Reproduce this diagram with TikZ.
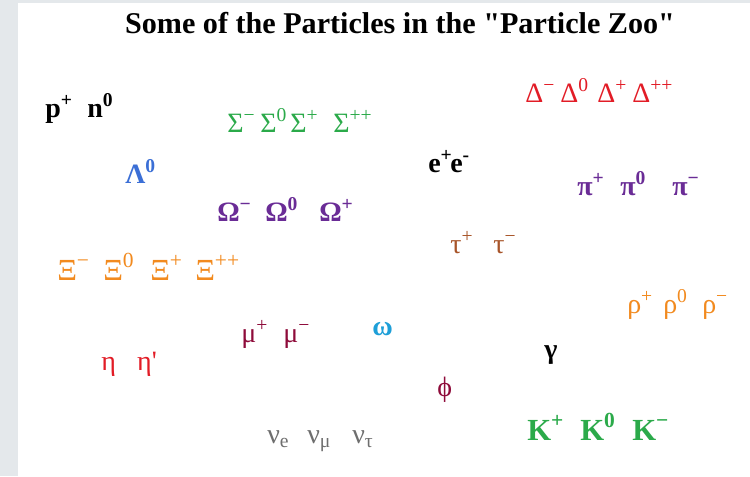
\documentclass[tikz,border=0pt]{standalone}
\usepackage{fontspec}
\setmainfont{Liberation Serif}[Ligatures=TeXOff]
\usepackage{tikz}
\usepackage{xcolor}
\usetikzlibrary{positioning}
\definecolor{zoogreen}{HTML}{2BAA4A}
\definecolor{zoored}{HTML}{E21C26}
\definecolor{zooblue}{HTML}{3B6FD6}
\definecolor{zoopurple}{HTML}{6A2C96}
\definecolor{zoobrown}{HTML}{A8552A}
\definecolor{zooorange}{HTML}{F28A1E}
\definecolor{zoomaroon}{HTML}{8E0B3A}
\definecolor{zoosky}{HTML}{1E9FD8}
\definecolor{zoogray}{HTML}{6E6E6E}
\definecolor{zooframe}{HTML}{E4E8EB}
\newlength{\zpx}
\setlength{\zpx}{0.75pt}
\newcommand{\up}[1]{\textsuperscript{#1}}
\newcommand{\dn}[1]{\textsubscript{#1}}
\newcommand{\slot}[2]{\makebox[#1\zpx][l]{#2}}

\begin{document}
\begin{tikzpicture}[x=0.75pt,y=-0.75pt, every node/.style={inner sep=0pt,anchor=base west},
    particle/.style={font=\fontsize{21pt}{24pt}\selectfont},
    heavy/.style={font=\fontsize{21pt}{24pt}\selectfont\bfseries}]
        \fill[zooframe] (0,0) rectangle (750,476);
        \fill[white] (18,3) rectangle (750,476);
        \node[anchor=base,font=\fontsize{22.6pt}{26pt}\selectfont\bfseries] (title) at (400,33) {Some of the Particles in the "Particle Zoo"};
        \node[heavy] (nucleon) at (45,117) {\slot{42}{p\up{+}}n\up{0}};
        \node[particle,zoogreen] (sigma) at (227,132) {\slot{33}{Σ\up{−}}\slot{30}{Σ\up{0}}\slot{43}{Σ\up{+}}Σ\up{++}};
        \node[particle,zoored] (delta) at (525,102) {\slot{35}{Δ\up{−}}\slot{37}{Δ\up{0}}\slot{35}{Δ\up{+}}Δ\up{++}};
        \node[heavy,zooblue] (lambda) at (125,183) {Λ\up{0}};
        \node[heavy] (electron) at (428,172) {\slot{22}{e\up{+}}e\up{-}};
        \node[heavy,zoopurple] (omega) at (217,221) {\slot{48}{Ω\up{−}}\slot{54}{Ω\up{0}}Ω\up{+}};
        \node[heavy,zoopurple] (pion) at (577,195) {\slot{43}{π\up{+}}\slot{52}{π\up{0}}π\up{−}};
        \node[particle,zoobrown] (tau) at (450,253) {\slot{43}{τ\up{+}}τ\up{−}};
        \node[particle,zooorange,font=\fontsize{23pt}{26pt}\selectfont] (xi) at (57,280) {\slot{46}{Ξ\up{−}}\slot{47}{Ξ\up{0}}\slot{45}{Ξ\up{+}}Ξ\up{++}};
        \node[particle,zooorange] (rho) at (627,313) {\slot{36}{ρ\up{+}}\slot{39}{ρ\up{0}}ρ\up{−}};
        \node[particle,zoomaroon] (muon) at (241,342) {\slot{42}{μ\up{+}}μ\up{−}};
        \node[heavy,zoosky] (omegameson) at (372,335) {ω};
        \node[particle,zoored] (eta) at (101,370) {\slot{36}{η}η'};
        \node[heavy] (photon) at (544,358) {γ};
        \node[particle,zoomaroon] (phi) at (437,396) {ϕ};
        \node[particle,zoogray] (neutrino) at (267,443) {\slot{40}{ν\dn{e}}\slot{45}{ν\dn{μ}}ν\dn{τ}};
        \node[heavy,zoogreen,font=\fontsize{23pt}{26pt}\selectfont\bfseries] (kaon) at (527,440) {\slot{53}{K\up{+}}\slot{52}{K\up{0}}K\up{−}};
    \end{tikzpicture}
\end{document}
